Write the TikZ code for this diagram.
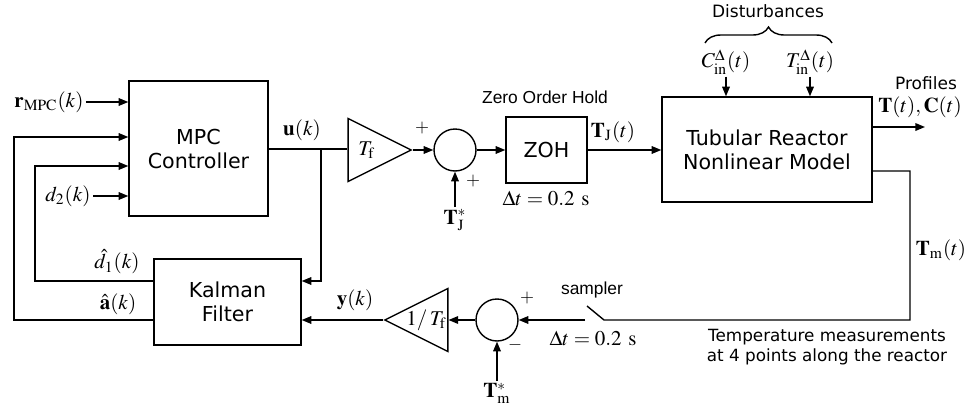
\documentclass[tikz,border=0pt]{standalone}
\usepackage{mathptmx}
\usepackage[no-math]{fontspec}
\setmainfont{DejaVu Sans}
\newfontfamily\arialfont{Liberation Sans}
\usetikzlibrary{arrows.meta,positioning,shapes.geometric,decorations.pathreplacing,calc}
\tikzset{
  bd/base/.style={draw=black, line width=0.7pt, align=center,
    font=\fontsize{10.3}{12}\selectfont, inner sep=0pt},
  bd/block/.style={bd/base, rectangle},
  bd/sum/.style={bd/base, circle, minimum size=21pt},
  bd/gain/.style={bd/base, isosceles triangle, isosceles triangle stretches,
    minimum width=31.5pt, minimum height=31.5pt},
  bd/wire/.style={draw=black, line width=0.7pt},
  bd/arrow/.style={bd/wire, -{Triangle[length=4.8pt,width=3.8pt]}},
  bd/math/.style={font=\fontsize{10.5}{12}\selectfont, inner sep=1pt},
  bd/sign/.style={font=\fontsize{9}{10}\selectfont, inner sep=0pt},
  bd/note/.style={font=\arialfont\fontsize{8.7}{10}\selectfont, inner sep=0pt},
  bd/text/.style={font=\fontsize{8.5}{10}\selectfont, inner sep=0pt, align=center},
}

\begin{document}
\begin{tikzpicture}[x=0.5pt, y=-0.5pt,
    block/.style={bd/block},
    sum/.style={bd/sum},
    gain/.style={bd/gain},
    arrow/.style={bd/arrow},
    wire/.style={bd/wire},
    lab/.style={bd/math},
]
\useasboundingbox (0,0) rectangle (976,413);

% blocks
\node[block, minimum width=69.5pt, minimum height=67.5pt] (mpc) at (198.5,148.5) {MPC\\Controller};
\node[block, minimum width=73.5pt, minimum height=43pt] (kal) at (227.5,302) {Kalman\\Filter};
\node[block, minimum width=40.5pt, minimum height=33pt] (zoh) at (546.5,150) {ZOH};
\node[block, minimum width=105pt, minimum height=52.5pt] (reac) at (767,149.5) {Tubular Reactor\\Nonlinear Model};
\node[gain, anchor=apex] (gf) at (413,150) {};
\node[gain, shape border rotate=180, anchor=apex] (gi) at (383,320) {};
\node[lab] (gfT) at ($(gf.apex)!0.71!(gf.lower side)$) {$T_{\mathrm{f}}$};
\node[lab] (giT) at ($(gi.apex)!0.66!(gi.lower side)$) {$1/\,T_{\mathrm{f}}$};
\node[sum] (s1) at (455,150) {};
\node[sum] (s2) at (497,320) {};

% inputs and labels
\node[lab] (rin) at (49,102) {$\mathbf{r}_{\mathrm{MPC}}(k)$};
\node[lab] (din) at (68,196) {$d_2(k)$};
\node[lab] (tjs) at (455,220) {$\mathbf{T}_{\mathrm{J}}^{*}$};
\node[lab] (tms) at (497,393) {$\mathbf{T}_{\mathrm{m}}^{*}$};
\node[lab] (cin) at (726,62) {$C_{\mathrm{in}}^{\Delta}(t)$};
\node[lab] (tin) at (810,62) {$T_{\mathrm{in}}^{\Delta}(t)$};
\node[lab] (ulab) at (302,130) {$\mathbf{u}(k)$};
\node[lab] (tjlab) at (613,132) {$\mathbf{T}_{\mathrm{J}}(t)$};
\node[lab] (ylab) at (355,300) {$\mathbf{y}(k)$};
\node[lab] (d1lab) at (117,262) {$\hat{d}_1(k)$};
\node[lab] (alab) at (118,304) {$\hat{\mathbf{a}}(k)$};
\node[lab] (tmlab) at (941,250) {$\mathbf{T}_{\mathrm{m}}(t)$};
\node[lab] (prof) at (920,107) {$\mathbf{T}(t), \mathbf{C}(t)$};
\node[bd/text] (proft) at (926,83) {Profiles};
\node[bd/text] (dist) at (768,11) {Disturbances};
\node[bd/note] (zohn) at (545,97) {Zero Order Hold};
\node[lab] (zohdt) at (546,198) {$\Delta t = 0.2~\mathrm{s}$};
\node[bd/note] (samp) at (592,290) {sampler};
\node[lab] (sampdt) at (593,338) {$\Delta t = 0.2~\mathrm{s}$};
\node[bd/text, font=\fontsize{8.4}{10}\selectfont] (meas) at (827,347) {Temperature measurements\\at 4 points along the reactor};

% signs
\node[bd/sign] (p1) at (422,128) {$+$};
\node[bd/sign] (p2) at (473,181) {$+$};
\node[bd/sign] (p3) at (527,298) {$+$};
\node[bd/sign] (m3) at (515,345) {$-$};

% forward path
\draw[arrow] (rin.east) -- (rin.east -| mpc.west);
\draw[arrow] (din.east) -- (din.east -| mpc.west);
\coordinate (ub) at (321,149);
\draw[wire] (mpc.east |- ub) -- (gf.west |- ub);
\draw[arrow] (gf.apex) -- (s1.west);
\draw[arrow] (tjs.north) -- (s1.south);
\draw[arrow] (s1.east) -- (zoh.west);
\draw[arrow] (zoh.east) -- (zoh.east -| reac.west);
\draw[arrow] (cin.south) -- (cin.south |- reac.north);
\draw[arrow] (tin.south) -- (tin.south |- reac.north);
\draw[decorate, decoration={brace, amplitude=8pt}, line width=0.7pt] (705,43) -- (832,43);
\coordinate (out) at (925,127);
\draw[arrow] (reac.east |- out) -- (out);

% measurement path
\coordinate (tmo) at (872,171);
\coordinate (tmc) at (910,320);
\coordinate (swR) at (604,320);
\coordinate (swL) at (585,320);
\draw[wire] (tmo) -| (tmc) -- (swR) -- (587,306);
\draw[arrow] (swL) -- (s2.east);
\draw[arrow] (tms.north) -- (s2.south);
\draw[arrow] (s2.west) -- (gi.lower side);
\draw[arrow] (gi.apex) -- (gi.apex -| kal.east);

% feedback to controller
\draw[arrow] (ub) |- (kal.east |- 0,281);
\draw[arrow] (kal.west |- 0,281) -- (35,281) |- (mpc.west |- 0,166);
\draw[arrow] (kal.west |- 0,320) -- (14,320) |- (mpc.west |- 0,137);
\end{tikzpicture}
\end{document}
